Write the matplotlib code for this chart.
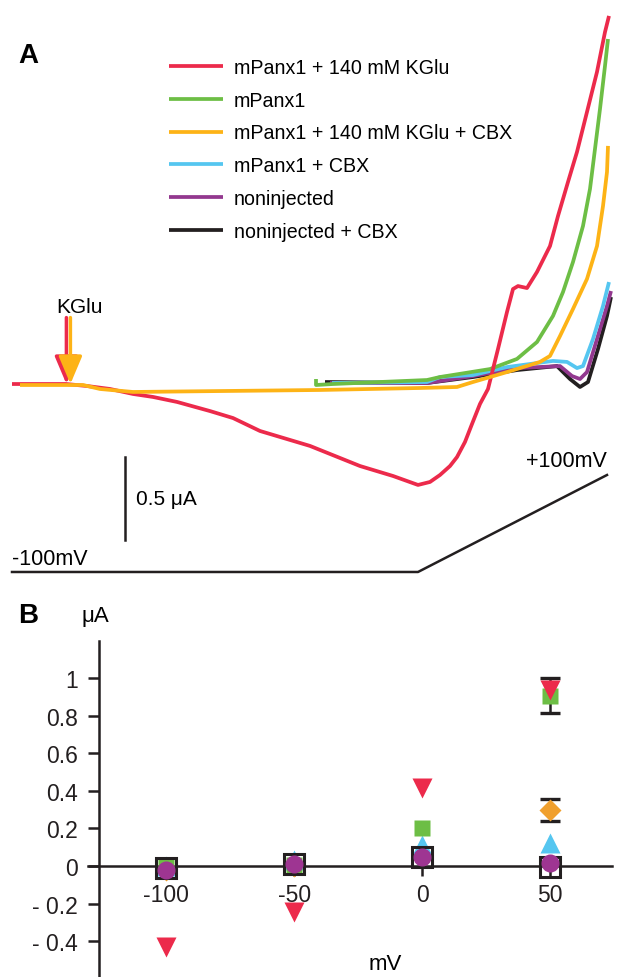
"""
Panx1 currents: (A) example ramp traces, (B) mean current vs. voltage
"""

import numpy as np
import matplotlib.pyplot as plt

plt.rcParams['font.family'] = ['Liberation Sans', 'DejaVu Sans']

# ---------------- Panel A data: time (s), current (uA) ----------------
red_t = [0, 13.5, 18.75, 24.5, 30.25, 35.25, 41.25, 49.5, 55.25, 62, 74.5, 87, 95.25, 101.5,
         104.5, 107, 109.5, 111.25, 113.25, 115, 117, 119, 121.5, 123.75, 125.25, 126.5,
         128.75, 131.25, 134.5, 136.5, 139, 141.25, 143.75, 146.25, 148.25, 149.25]
red_i = [0, 0, -0.012, -0.03, -0.06, -0.078, -0.108, -0.163, -0.205, -0.283, -0.373, -0.494,
         -0.554, -0.608, -0.59, -0.548, -0.494, -0.44, -0.349, -0.241, -0.12, -0.03, 0.211,
         0.434, 0.572, 0.59, 0.578, 0.675, 0.831, 1.012, 1.217, 1.398, 1.639, 1.88, 2.12,
         2.217]

green_t = [76, 76, 80.25, 103.75, 107, 113.25, 119.5, 126.25, 131.25, 135.25, 137.75, 140.25,
           142.75, 144.5, 145.75, 147, 148.25, 149]
green_i = [0.03, -0.006, 0, 0.024, 0.042, 0.066, 0.09, 0.151, 0.253, 0.41, 0.554, 0.735,
           0.952, 1.175, 1.416, 1.657, 1.916, 2.078]

orange_t = [2, 17.75, 22, 30.25, 77, 102, 111.25, 115.25, 123.75, 132, 134.5, 137, 140.25,
            143.75, 146.25, 147.75, 148.75, 149]
orange_i = [-0.006, -0.006, -0.03, -0.048, -0.036, -0.024, -0.018, 0.012, 0.072, 0.133,
            0.169, 0.289, 0.452, 0.633, 0.831, 1.072, 1.277, 1.434]

cyan_t = [80, 103.75, 107, 115.25, 123.75, 135.25, 138.75, 141.25, 142.75, 145.25, 147.75,
          149.25]
cyan_i = [0.006, 0.012, 0.042, 0.054, 0.102, 0.139, 0.133, 0.096, 0.108, 0.271, 0.47, 0.614]

purple_t = [79.5, 103.75, 115.25, 126.25, 137, 140, 142, 143.75, 146.25, 148.75, 149.75]
purple_i = [0.006, 0.006, 0.048, 0.096, 0.108, 0.048, 0.03, 0.072, 0.271, 0.47, 0.56]

black_t = [78.25, 103.75, 115.25, 126.25, 136.25, 139.5, 142, 144, 146.5, 148.75, 149.75]
black_i = [0.012, 0.006, 0.042, 0.084, 0.108, 0.03, -0.018, 0.012, 0.211, 0.41, 0.524]

# voltage protocol
volt_t = [0, 101.5, 148.75]
volt_mv = [-100, -100, 100]

kglu_t_red = 13.6
kglu_t_orange = 14.6

labels = ['mPanx1 + 140 mM KGlu', 'mPanx1', 'mPanx1 + 140 mM KGlu + CBX',
          'mPanx1 + CBX', 'noninjected', 'noninjected + CBX']
colors = ['#EC2A4B', '#6DBE45', '#FDB316', '#55C6F0', '#93388F', '#231F20']

# ---------------- Panel B data: mV, uA ----------------
vm = [-100, -50, 0, 50]
b_red = [-0.43, -0.245, 0.415, 0.936]
b_green = [0.0, 0.005, 0.204, 0.906]
b_orange = [-0.02, 0.0, 0.05, 0.298]
b_cyan = [0.0, 0.03, 0.11, 0.122]
b_purple = [-0.02, 0.01, 0.046, 0.016]
b_black = [-0.01, 0.01, 0.046, -0.005]
err_green = [0, 0, 0, 0.092]
err_orange = [0, 0, 0, 0.06]

W, H = 620, 978
fig = plt.figure(figsize=(W / 100, H / 100), dpi=100)

# ---------------- Panel A ----------------
axA = fig.add_axes([0, 1 - 600 / H, 1, 600 / H])
axA.set_xlim(-3, 152)
axA.set_ylim(-1.295, 2.319)
axA.axis('off')

traces = [(red_t, red_i), (green_t, green_i), (orange_t, orange_i),
          (cyan_t, cyan_i), (purple_t, purple_i), (black_t, black_i)]
zorders = [5, 4, 6, 3, 2, 1]
handles = []
for (t, i), c, lab, z in zip(traces, colors, labels, zorders):
    h, = axA.plot(t, i, color=c, lw=2.7, label=lab, zorder=z,
                  solid_joinstyle='round', solid_capstyle='butt')
    handles.append(h)

# KGlu application arrows
for tk, c in [(kglu_t_red, colors[0]), (kglu_t_orange, colors[2])]:
    axA.annotate('', xy=(tk, 0), xytext=(tk, 0.40),
                 arrowprops=dict(arrowstyle='-|>,head_width=0.55,head_length=1.3',
                                 mutation_scale=13, color=c, lw=2.5,
                                 shrinkA=0, shrinkB=0), zorder=7)
axA.text(17, 0.41, 'KGlu', ha='center', va='bottom', fontsize=15)

# scale bar
axA.plot([28.25, 28.25], [-0.44, -0.94], color='#231F20', lw=1.8)
axA.text(31, -0.69, '0.5 μA', ha='left', va='center', fontsize=15)

axA.legend(handles=handles, loc='upper left', bbox_to_anchor=(169 / W, 1 - 59 / H),
           bbox_transform=fig.transFigure, frameon=False, fontsize=14.1,
           handlelength=2.75, handletextpad=0.55, labelspacing=0.7, borderpad=0,
           borderaxespad=0)

# voltage protocol
axV = axA.twinx()
axV.set_ylim(-155.7, 1081.4)
axV.axis('off')
axV.plot(volt_t, volt_mv, color='#231F20', lw=1.8)
axV.annotate('-100mV', xy=(0, -100), xytext=(0, 2), textcoords='offset points',
             ha='left', va='bottom', fontsize=15.5)
axV.annotate('+100mV', xy=(volt_t[-1], volt_mv[-1]), xytext=(0, 3),
             textcoords='offset points', ha='right', va='bottom', fontsize=15.5)

fig.text(18 / W, 1 - 63 / H, 'A', fontsize=20, fontweight='bold', ha='left', va='baseline')

# ---------------- Panel B ----------------
axB = fig.add_axes([88 / W, 0, (612 - 88) / W, (978 - 642) / H])
axB.set_xlim(-130.5, 74.2)
axB.set_ylim(-0.59, 1.197)

for yv, ev in [(b_green, err_green), (b_orange, err_orange)]:
    idx = [k for k, e in enumerate(ev) if e > 0]
    axB.errorbar([vm[k] for k in idx], [yv[k] for k in idx], yerr=[ev[k] for k in idx],
                 fmt='none', ecolor='#231F20', elinewidth=1.8, capsize=7.5, capthick=2.4,
                 zorder=2)

axB.plot(vm, b_orange, 'D', color='#F0A02E', ms=11, mec='none', zorder=3)
axB.plot(vm, b_cyan, '^', color=colors[3], ms=14, mec='none', zorder=3)
axB.plot(vm, b_green, 's', color=colors[1], ms=12, mec='none', zorder=4)
axB.plot(vm, b_black, 's', mfc='none', mec='#231F20', mew=2.2, ms=15, zorder=5)
axB.plot(vm, b_purple, 'o', color='#9E3592', ms=13, mec='none', zorder=6)
axB.plot(vm, b_red, 'v', color=colors[0], ms=14, mec='none', zorder=7)

for s in ['top', 'right']:
    axB.spines[s].set_visible(False)
axB.spines['left'].set_position(('data', -126.2))
axB.spines['bottom'].set_position(('data', 0))
for s in ['left', 'bottom']:
    axB.spines[s].set_linewidth(1.8)
    axB.spines[s].set_color('#231F20')

yt = [-0.4, -0.2, 0, 0.2, 0.4, 0.6, 0.8, 1]
axB.set_yticks(yt)
axB.set_yticklabels(['- 0.4', '- 0.2', '0', '0.2', '0.4', '0.6', '0.8', '1'])
axB.set_xticks(vm)
axB.set_xticklabels(['-100', '-50', '0', '50'])
axB.tick_params(axis='y', direction='out', length=8, width=1.8, pad=7, labelsize=16.5,
                colors='#231F20')
axB.tick_params(axis='x', direction='out', length=7.5, width=1.8, pad=5, labelsize=16.5,
                colors='#231F20')

fig.text(95 / W, 1 - 617 / H, 'μA', fontsize=16, ha='center', va='center')
fig.text(385 / W, 1 - 965 / H, 'mV', fontsize=16, ha='center', va='center')
fig.text(18 / W, 1 - 623 / H, 'B', fontsize=20, fontweight='bold', ha='left', va='baseline')

fig.savefig('out.png', dpi=100)
